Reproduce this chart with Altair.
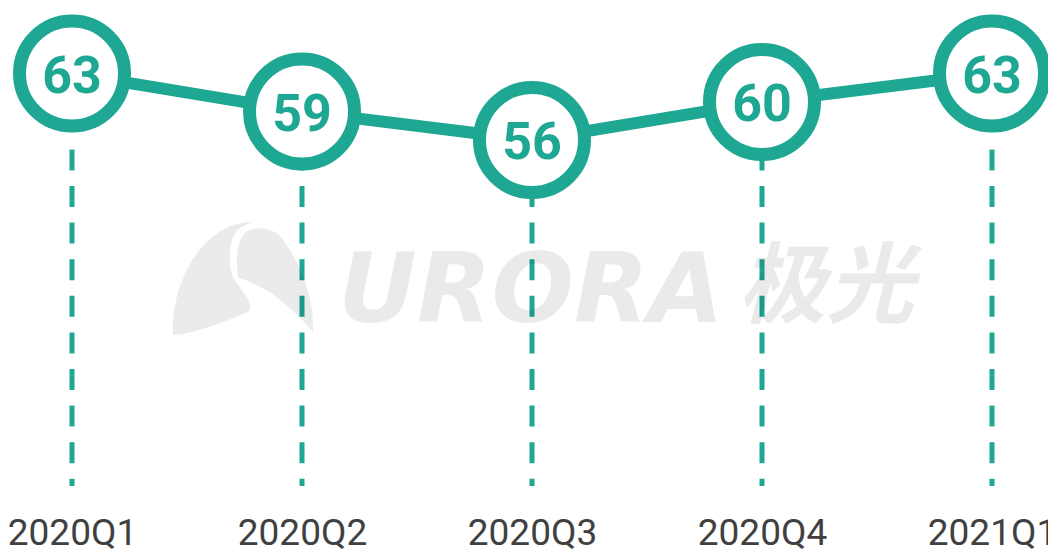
import altair as alt
import pandas as pd

# ---- data ----
quarters = ["2020Q1", "2020Q2", "2020Q3", "2020Q4", "2021Q1"]
values = [63, 59, 56, 60, 63]
Y_MIN, Y_MAX = 19.6, 69.9

TEAL = "#1ea792"
LABEL_GRAY = "#404040"

df = pd.DataFrame({
    "q": quarters,
    "v": values,
    "start": [min(values)] * len(values),
    "base": [Y_MIN] * len(values),
})

x = alt.X(
    "q:O",
    sort=quarters,
    scale=alt.Scale(type="point", padding=0),
    axis=alt.Axis(
        title=None, domain=False, ticks=False, grid=False, labelAngle=0,
        labelFont="Roboto", labelFontSize=37, labelColor=LABEL_GRAY,
        labelPadding=58, labelBaseline="alphabetic",
    ),
)
ys = alt.Scale(domain=[Y_MIN, Y_MAX], zero=False, nice=False)

base = alt.Chart(df)

rules = base.mark_rule(
    color=TEAL, strokeWidth=5, strokeDash=[21, 15.6], strokeDashOffset=27.3
).encode(x=x, y=alt.Y("start:Q", scale=ys, axis=None), y2="base:Q")

line = base.mark_line(color=TEAL, strokeWidth=12).encode(
    x=x, y=alt.Y("v:Q", scale=ys, axis=None)
)

points = base.mark_point(
    shape="circle", size=11025, filled=True, fill="white", stroke=TEAL,
    strokeWidth=13, opacity=1,
).encode(x=x, y=alt.Y("v:Q", scale=ys, axis=None))

labels = base.mark_text(
    font="Roboto", fontWeight="bold", fontSize=52, color=TEAL,
    align="center", baseline="alphabetic", dy=19,
).encode(x=x, y=alt.Y("v:Q", scale=ys, axis=None), text="v:Q")

# ---- watermark (decorative, pixel placed inside the plot area) ----
LOGO = (
    "M -1 0.807 C -1.043 0.021 -0.543 -0.807 0.129 -0.807 "
    "L -0.043 -0.721 C -0.214 -0.621 -0.243 -0.093 -0.086 0.064 "
    "C 0.029 0.236 0.171 0.379 0.071 0.479 "
    "C -0.257 0.621 -0.757 0.807 -1 0.807 Z "
    "M 0.014 -0.636 C 0.1 -0.75 0.386 -0.75 0.529 -0.607 "
    "C 0.814 -0.264 1.029 0.307 1.0 0.764 "
    "C 0.671 0.379 0.314 0.093 -0.071 -0.007 "
    "C -0.1 -0.264 -0.1 -0.479 0.014 -0.636 Z"
)
wm_logo = alt.Chart(pd.DataFrame({"k": ["logo"]})).mark_point(
    shape=LOGO, size=19600, filled=True, fill="black", opacity=0.08, strokeWidth=0
).encode(x=alt.value(171), y=alt.value(270.5))

wm_text = alt.Chart(pd.DataFrame({"t": ["URORA"]})).mark_text(
    font="DejaVu Sans", fontWeight="bold", fontStyle="italic", fontSize=97,
    color="black", opacity=0.08, align="left", baseline="alphabetic",
).encode(x=alt.value(266), y=alt.value(314), text="t:N")

wm_cn = alt.Chart(pd.DataFrame({"t": ["极光"]})).mark_text(
    font="Noto Sans CJK SC", fontWeight="bold", fontStyle="italic", fontSize=88,
    color="black", opacity=0.08, align="left", baseline="alphabetic",
).encode(x=alt.value(666), y=alt.value(308), text="t:N")

chart = alt.layer(rules, line, points, labels, wm_logo, wm_text, wm_cn).properties(
    width=920, height=478,
    autosize=alt.AutoSizeParams(type="none"),
    padding={"left": 64, "right": 56, "top": 0, "bottom": 64},
).configure_view(stroke=None)

chart.save("out.html", embed_options={"renderer": "svg", "actions": False})
